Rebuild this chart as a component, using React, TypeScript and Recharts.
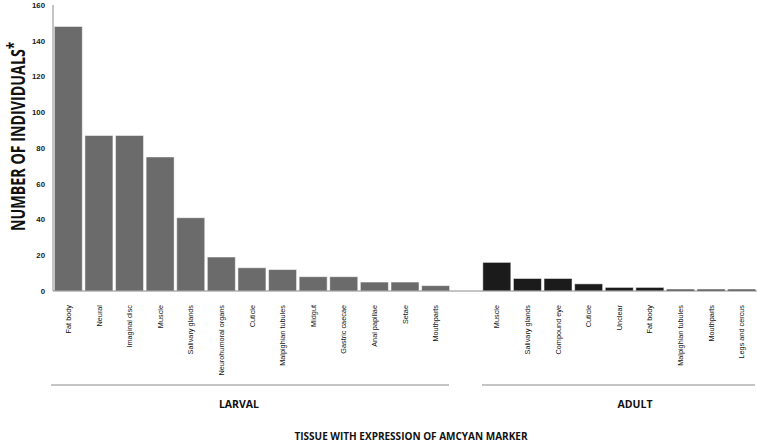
import React from "react";
import { BarChart, Bar, XAxis, YAxis, Cell } from "recharts";

const larvalCategories = [
  "Fat body", "Neural", "Imaginal disc", "Muscle", "Salivary glands",
  "Neurohumoral organs", "Cuticle", "Malpighian tubules", "Midgut",
  "Gastric caecae", "Anal papillae", "Setae", "Mouthparts",
];
const larvalValues = [148, 87, 87, 75, 41, 19, 13, 12, 8, 8, 5, 5, 3];

const adultCategories = [
  "Muscle", "Salivary glands", "Compound eye", "Cuticle", "Unclear",
  "Fat body", "Malpighian tubules", "Mouthparts", "Legs and cercus",
];
const adultValues = [16, 7, 7, 4, 2, 2, 1, 1, 1];

const yTicks = [0, 20, 40, 60, 80, 100, 120, 140, 160];

const LARVAL_COLOR = "#6b6b6b";
const ADULT_COLOR = "#1b1b1b";

type Row = { id: string; label: string; value: number | null; group: string };

const data: Row[] = [
  ...larvalCategories.map((c, i) => ({ id: "L" + i, label: c, value: larvalValues[i], group: "larval" })),
  { id: "gap", label: "", value: null, group: "gap" },
  ...adultCategories.map((c, i) => ({ id: "A" + i, label: c, value: adultValues[i], group: "adult" })),
];

const labelById: Record<string, string> = {};
data.forEach((d) => (labelById[d.id] = d.label));

const FONT = "'Liberation Sans', Arial, sans-serif";

const XTick = (props: any) => {
  const { x, y, payload } = props;
  const text = labelById[payload.value] || "";
  return (
    <text
      x={0}
      y={0}
      transform={`translate(${x + 2.6},${y + 6}) rotate(-90)`}
      textAnchor="end"
      fontSize={7.3}
      fontFamily={FONT}
      fill="#111"
    >
      {text}
    </text>
  );
};

export default function App() {
  return (
    <div style={{ position: "absolute", left: 0, top: 0, width: 757, height: 442, background: "#fff" }}>
      <BarChart
        width={757}
        height={442}
        data={data}
        margin={{ top: 5, right: 0, bottom: 0, left: 0 }}
        barCategoryGap={1.3}
      >
        <XAxis
          dataKey="id"
          interval={0}
          tickLine={false}
          axisLine={{ stroke: "#8a8a8a", strokeWidth: 1 }}
          height={151}
          tick={<XTick />}
        />
        <YAxis
          width={53}
          domain={[0, 160]}
          ticks={yTicks}
          interval={0}
          tickLine={false}
          axisLine={{ stroke: "#8a8a8a", strokeWidth: 1 }}
          tick={{ fontSize: 7.8, fontFamily: FONT, fill: "#1a1a1a", fontWeight: "bold" }}
        />
        <Bar dataKey="value" isAnimationActive={false} stroke="#ffffff" strokeWidth={0.5}>
          {data.map((d) => (
            <Cell key={d.id} fill={d.group === "adult" ? ADULT_COLOR : LARVAL_COLOR} />
          ))}
        </Bar>
      </BarChart>
      <svg
        width={757}
        height={442}
        style={{ position: "absolute", left: 0, top: 0, pointerEvents: "none" }}
      >
        <text
          transform="translate(24.5,231) rotate(-90) scale(0.75,1)"
          textAnchor="start"
          fontFamily="'Open Sans', sans-serif"
          fontWeight="bold"
          fontSize={19}
          fill="#111"
        >
          NUMBER OF INDIVIDUALS
          <tspan dy={-5} fontSize={18}>*</tspan>
        </text>
        <line x1={51} y1={385} x2={449} y2={385} stroke="#8a8a8a" strokeWidth={1} />
        <line x1={482} y1={385} x2={755} y2={385} stroke="#8a8a8a" strokeWidth={1} />
        <text x={239} y={408} textAnchor="middle" fontFamily="'Open Sans', sans-serif" fontWeight="bold" fontSize={10.5} fill="#111">
          LARVAL
        </text>
        <text x={635} y={408} textAnchor="middle" fontFamily="'Open Sans', sans-serif" fontWeight="bold" fontSize={10.5} fill="#111">
          ADULT
        </text>
        <text x={411} y={440} textAnchor="middle" fontFamily="'Open Sans', sans-serif" fontWeight="bold" fontSize={10} fill="#111">
          TISSUE WITH EXPRESSION OF AMCYAN MARKER
        </text>
      </svg>
    </div>
  );
}
